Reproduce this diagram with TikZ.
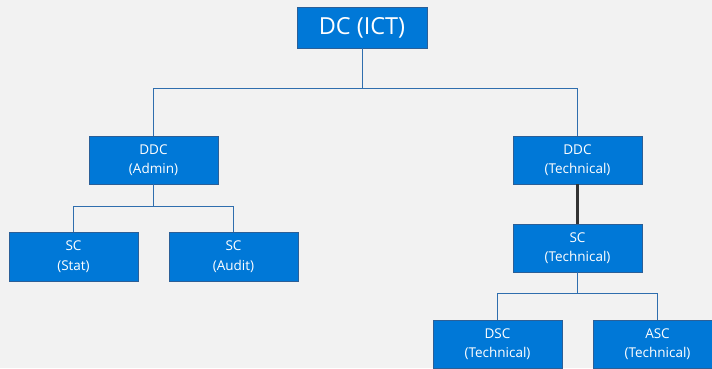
\documentclass[tikz,border=0pt]{standalone}
\usepackage{fontspec}
\setmainfont{Open Sans}
\definecolor{boxblue}{HTML}{0078D7}
\definecolor{boxedge}{HTML}{2B5F97}
\definecolor{linkblue}{HTML}{2F6EAE}
\definecolor{pagebg}{HTML}{F2F2F2}
\begin{document}
\begin{tikzpicture}[
    x=1pt, y=-1pt,
    unit/.style={rectangle, draw=boxedge, fill=boxblue, text=white, line width=0.8pt,
        minimum width=129pt, minimum height=48pt, align=center, inner sep=0pt,
        font=\fontsize{13.5}{19.5}\selectfont},
    head/.style={unit, minimum width=130pt, minimum height=41pt,
        font=\fontsize{23.5}{28}\selectfont},
    link/.style={draw=linkblue, line width=1pt},
    strong/.style={draw=black!80, line width=3pt}
]

% page
\useasboundingbox (0,0) rectangle (712,368);
\fill[pagebg] (0,0) rectangle (712,368);
\clip (0,0) rectangle (712,368);

% Top level
\node[head] (dc) at (362,27.5) {DC (ICT)};

% Deputies
\node[unit] (ddca) at (153.5,160) {DDC\\(Admin)};
\node[unit] (ddct) at (577.5,160) {DDC\\(Technical)};

% Admin branch
\node[unit, minimum height=49pt] (scs) at (73.5,256.5) {SC\\(Stat)};
\node[unit, minimum height=49pt] (sca) at (233.5,256.5) {SC\\(Audit)};

% Technical branch
\node[unit] (sct) at (577.5,248) {SC\\(Technical)};
\node[unit] (dsc) at (497.5,344) {DSC\\(Technical)};
\node[unit] (asc) at (657.5,344) {ASC\\(Technical)};

% Reporting lines
\draw[link] (dc.south) -- ++(0,40) -| (ddca.north);
\draw[link] (dc.south) -- ++(0,40) -| (ddct.north);
\draw[link] (ddca.south) -- ++(0,22) -| (scs.north);
\draw[link] (ddca.south) -- ++(0,22) -| (sca.north);
\draw[strong] (ddct.south) -- (sct.north);
\draw[link] (sct.south) -- ++(0,21) -| (dsc.north);
\draw[link] (sct.south) -- ++(0,21) -| (asc.north);

\end{tikzpicture}
\end{document}
